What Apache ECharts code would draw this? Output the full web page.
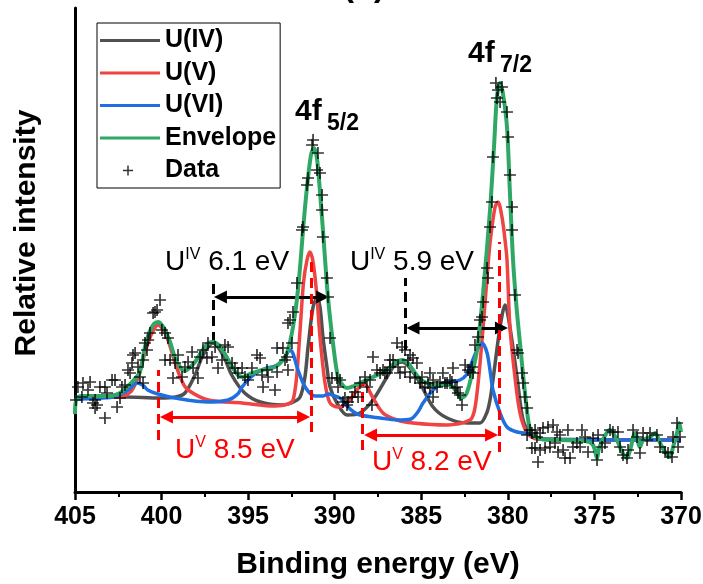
<!DOCTYPE html>
<html>
<head>
<meta charset="utf-8">
<script src="https://cdn.jsdelivr.net/npm/echarts@6/dist/echarts.min.js"></script>
<style>
  html, body { margin: 0; padding: 0; background: #fff; }
  #chart { width: 703px; height: 584px; }
</style>
</head>
<body>
<div id="chart"></div>
<script>
// U 4f XPS spectrum: fitted components, envelope and measured points
const energyTicks = [405, 400, 395, 390, 385, 380, 375, 370];   // binding energy (eV)
const intensityRange = [0, 484];                                  // relative intensity (a.u.)

// U(IV) component [binding energy, intensity]
const uIV = [
  [405.0,95],[402.1,95],[400.1,94],[399.2,95],[398.65,99],[398.07,117],[397.6,137],[397.03,149],
  [396.45,137],[395.95,117],[395.2,99],[394.3,90],[393.05,87],[392.5,89],[392.0,95],[391.72,115],
  [391.54,145],[391.25,185],[391.02,194],[390.85,185],[390.68,155],[390.45,125],[390.27,105],
  [389.87,89],[389.29,77],[388.54,79],[387.79,92],[386.98,115],[386.52,127],[386.11,130],
  [385.65,124],[385.07,109],[384.32,85],[383.51,74],[382.36,69],[381.61,69],[381.2,80],[381.0,95],
  [380.86,112],[380.45,165],[380.16,187],[379.88,165],[379.47,115],[379.12,72],[378.72,59],
  [378.14,53],[377.0,52],[370.0,52]
];

// U(V) component
const uV = [
  [405.0,95],[402.5,95],[401.8,100],[401.42,112],[401.13,129],[400.8,148],[400.55,159],[400.21,167],
  [399.8,159],[399.5,145],[399.22,129],[398.8,110],[398.47,102],[397.3,92],[395.35,89],[393.45,86],
  [392.7,88],[392.41,92],[392.2,115],[392.0,162],[391.8,210],[391.6,232],[391.43,240],[391.25,230],
  [391.05,200],[390.85,155],[390.56,109],[390.27,89],[389.81,85],[389.29,89],[388.83,99],[388.55,106],
  [388.37,109],[388.15,106],[387.85,96],[387.21,79],[386.4,72],[385.48,69],[383.51,67],[382.19,72],
  [381.95,80],[381.78,99],[381.6,130],[381.43,165],[381.2,215],[381.03,249],[380.74,285],[380.57,290],
  [380.34,275],[380.15,250],[380.05,232],[379.88,165],[379.59,115],[379.3,79],[378.89,59],[378.3,53],
  [370.0,52]
];

// U(VI) component
const uVI = [
  [405.0,93],[402.8,95],[402.1,100],[401.8,104],[401.42,109],[401.1,107],[400.8,102],[400.21,98],
  [399.22,94],[397.32,90],[396.16,92],[395.6,98],[395.35,105],[394.9,114],[394.43,120],[393.9,124],
  [393.45,126],[393.1,130],[392.87,135],[392.58,142],[392.4,138],[392.18,125],[391.83,109],[391.5,100],
  [391.14,96],[390.7,96],[390.35,98],[390.0,96],[389.7,94],[389.29,86],[388.9,80],[388.54,77],
  [387.38,74],[386.4,72],[385.6,73],[385.2,80],[384.9,89],[384.32,102],[383.75,109],[383.34,110],
  [382.76,112],[382.4,117],[382.19,125],[381.78,142],[381.49,149],[381.2,139],[381.0,118],[380.86,102],
  [380.45,79],[380.05,65],[379.47,60],[378.72,58],[378.0,53],[370.0,52]
];

// Fitted envelope
const envelope = [
  [405.0,78],[404.9,94],[404.5,96],[403.0,96],[402.4,99],[402.0,105],[401.6,112],[401.25,120],
  [400.96,145],[400.7,160],[400.45,168],[400.2,170],[399.9,165],[399.7,158],[399.51,150],[399.22,134],
  [398.9,124],[398.65,121],[398.4,124],[398.07,130],[397.7,140],[397.35,148],[397.03,150],[396.7,147],
  [396.34,138],[395.95,126],[395.59,117],[395.3,115],[394.89,118],[394.2,122],[393.45,125],[392.99,132],
  [392.7,142],[392.41,165],[392.18,193],[392.0,225],[391.83,262],[391.6,305],[391.37,337],[391.2,344],
  [391.02,333],[390.85,300],[390.68,262],[390.39,195],[390.1,149],[389.81,115],[389.5,106],[389.29,104],
  [388.9,106],[388.54,109],[387.79,115],[386.98,122],[386.52,129],[386.11,132],[385.77,129],[385.48,122],
  [385.07,113],[384.67,109],[383.92,107],[383.34,107],[383.0,101],[382.7,94],[382.4,98],[382.07,118],
  [381.78,142],[381.43,199],[381.03,282],[380.8,345],[380.63,395],[380.45,409],[380.28,398],[380.05,365],
  [379.88,299],[379.7,232],[379.5,185],[379.3,149],[379.01,99],[378.72,62],[378.4,55],[378.14,53],
  [377.0,52],[375.54,51],[375.08,47],[374.85,34],[374.73,44],[374.3,59],[374.1,62],[373.7,52],
  [373.4,40],[373.12,34],[372.94,42],[372.65,59],[372.37,45],[372.19,52],[371.79,55],[371.5,59],
  [371.21,49],[370.92,40],[370.63,35],[370.46,45],[370.23,59],[370.1,69],[370.0,60]
];

// Measured spectrum
const measured = [
  [404.94,92],[404.83,105],[404.60,95],[404.54,109],[404.25,102],[404.13,110],[403.96,89],[403.84,92],
  [403.84,84],[403.73,87],[403.56,105],[403.27,105],[403.27,74],[403.15,99],[402.86,112],[402.69,112],
  [402.57,85],[402.40,94],[402.29,105],[402.11,107],[401.94,122],[401.82,119],[401.71,129],[401.65,137],
  [401.53,139],[401.36,125],[401.25,115],[401.07,132],[401.07,109],[400.96,149],[400.84,142],[400.78,152],
  [400.67,159],[400.49,179],[400.38,180],[400.26,182],[400.09,192],[399.98,162],[399.80,159],[399.63,154],
  [399.80,132],[399.51,132],[399.34,114],[399.22,129],[399.05,137],[398.82,115],[398.65,125],[398.47,130],
  [398.24,140],[398.18,124],[397.90,114],[397.78,135],[397.61,142],[397.38,134],[397.32,149],[397.09,135],
  [396.91,145],[396.74,124],[396.51,132],[396.34,147],[396.16,145],[395.93,129],[395.76,124],[395.59,119],
  [395.35,124],[395.18,115],[395.01,112],[394.78,124],[394.49,137],[394.31,134],[394.20,117],[394.14,105],
  [393.91,122],[393.85,115],[393.45,102],[393.33,120],[393.33,144],[392.99,144],[392.87,132],[392.76,135],
  [392.70,122],[392.70,169],[392.58,172],[392.47,149],[392.41,180],[392.18,209],[391.89,262],[391.83,265],
  [391.60,307],[391.54,314],[391.31,347],[391.25,352],[391.02,322],[390.97,339],[390.85,319],[390.73,297],
  [390.73,282],[390.68,255],[390.45,214],[390.39,195],[390.27,154],[390.16,114],[389.87,114],[389.81,105],
  [389.69,112],[389.52,90],[389.41,94],[389.29,87],[389.23,90],[389.00,95],[388.83,100],[388.65,95],
  [388.54,109],[388.25,115],[388.14,105],[387.96,112],[387.85,87],[387.79,135],[387.56,122],[387.38,119],
  [387.21,122],[387.10,119],[386.98,119],[386.81,125],[386.81,132],[386.63,132],[386.40,149],[386.34,125],
  [386.23,119],[386.11,145],[385.94,142],[385.94,120],[385.77,132],[385.65,137],[385.65,115],[385.48,134],
  [385.36,114],[385.25,129],[385.07,109],[384.96,115],[384.79,105],[384.61,109],[384.50,119],[384.50,104],
  [384.32,112],[384.32,95],[384.09,105],[383.92,110],[383.75,119],[383.63,109],[383.51,109],[383.34,112],
  [383.23,110],[383.17,124],[383.05,104],[382.94,105],[382.88,99],[382.76,97],[382.65,87],[382.47,127],
  [382.30,122],[382.19,120],[382.07,125],[382.01,119],[381.90,147],[381.72,155],[381.61,172],[381.49,175],
  [381.43,190],[381.20,224],[381.15,214],[381.03,265],[380.92,290],[380.86,335],[380.69,409],[380.63,394],
  [380.57,402],[380.45,390],[380.34,405],[380.05,380],[379.99,355],[379.88,317],[379.76,285],[379.76,262],
  [379.59,197],[379.47,142],[379.41,139],[379.18,119],[379.12,109],[379.01,95],[378.89,84],[378.72,62],
  [378.89,57],[378.61,59],[378.61,44],[378.43,62],[378.43,44],[378.32,55],[378.26,30],[378.14,59],
  [378.14,42],[377.97,64],[377.85,44],[377.68,65],[377.57,45],[377.39,67],[377.28,49],[377.16,60],
  [377.10,40],[376.99,57],[376.81,42],[376.70,34],[376.53,62],[376.41,34],[376.24,45],[376.01,49],
  [375.83,45],[375.72,62],[375.54,55],[375.37,40],[375.08,54],[374.85,32],[374.79,57],[374.56,45],
  [374.39,49],[374.10,62],[373.93,60],[373.64,60],[373.52,45],[373.35,37],[373.12,34],[373.06,42],
  [372.77,62],[372.54,55],[372.37,39],[372.19,59],[371.96,52],[371.79,59],[371.39,57],[371.21,45],
  [370.92,40],[370.75,39],[370.52,35],[370.46,55],[370.23,69],[370.17,45],[370.06,55]
];

// Guide lines and separation arrows (energy in eV, intensity range)
const satelliteMarks = [ { e: 397.0, lo: 150, hi: 214 }, { e: 385.94, lo: 142, hi: 214 } ];
const satelliteArrows = [ { from: 396.6, to: 390.7, i: 195 }, { from: 385.48, to: 380.37, i: 164 } ];
const splitMarks = [
  { e: 400.2, lo: 52, hi: 122 }, { e: 391.37, lo: 60, hi: 235 },
  { e: 388.42, lo: 42, hi: 109 }, { e: 380.51, lo: 40, hi: 250 }
];
const splitArrows = [ { from: 399.72, to: 391.8, i: 75 }, { from: 387.93, to: 380.94, i: 57 } ];

// Text notes anchored at [energy, intensity] (left edge, vertical middle)
const separationNotes = [
  { ion: 'IV', value: '6.1 eV', at: [399.8, 230], red: false },
  { ion: 'IV', value: '5.9 eV', at: [389.12, 230], red: false },
  { ion: 'V',  value: '8.5 eV', at: [399.22, 42], red: true },
  { ion: 'V',  value: '8.2 eV', at: [387.85, 30], red: true }
];
const peakNotes = [
  { level: '5/2', at: [392.29, 380] },
  { level: '7/2', at: [382.3, 438] }
];

const FONT = '"Liberation Sans", Arial, Helvetica, sans-serif';
const GREY = '#505050', RED = '#f04343', BLUE = '#1f6fe0', GREEN = '#2fa866', MARK_RED = '#ff0000';
const plusSymbol = 'path://M4.3,0H5.7V4.3H10V5.7H5.7V10H4.3V5.7H0V4.3H4.3Z';
const lineIcon = 'path://M0,0M60,22M0,9.5H60V12.5H0Z';
const plusIcon = 'path://M0,0M60,22M23,10.25H33V11.75H23ZM27.25,6H28.75V16H27.25Z';

function curve(name, pts, color, width, z) {
  return {
    name, type: 'line', data: pts, color, z,
    showSymbol: false, symbol: 'none', smooth: 0.3,
    lineStyle: { color, width }, itemStyle: { color },
    silent: true, emphasis: { disabled: true }, animation: false
  };
}

const guideLines = [];
satelliteMarks.forEach(m => guideLines.push([
  { coord: [m.e, m.lo], lineStyle: { color: '#000', width: 3, type: [10, 6] } }, { coord: [m.e, m.hi] }
]));
satelliteArrows.forEach(a => guideLines.push([
  { coord: [a.from, a.i], symbol: 'triangle', symbolSize: [13, 13], lineStyle: { color: '#000', width: 3, type: 'solid' }, itemStyle: { color: '#000' } },
  { coord: [a.to, a.i], symbol: 'triangle', symbolSize: [13, 13] }
]));
splitMarks.forEach(m => guideLines.push([
  { coord: [m.e, m.lo], lineStyle: { color: MARK_RED, width: 3, type: [10, 6] } }, { coord: [m.e, m.hi] }
]));
splitArrows.forEach(a => guideLines.push([
  { coord: [a.from, a.i], symbol: 'triangle', symbolSize: [13, 13], lineStyle: { color: MARK_RED, width: 3, type: 'solid' }, itemStyle: { color: MARK_RED } },
  { coord: [a.to, a.i], symbol: 'triangle', symbolSize: [13, 13] }
]));

const chart = echarts.init(document.getElementById('chart'), null, { renderer: 'canvas' });

chart.setOption({
  animation: false,
  backgroundColor: '#fff',
  textStyle: { fontFamily: FONT },
  grid: { left: 75, right: 22, top: 8, bottom: 92, containLabel: false, outerBoundsMode: 'none' },
  legend: {
    orient: 'vertical', left: 97, top: 23,
    padding: [5, 4, 5, 3], itemGap: 7.5, itemWidth: 60, itemHeight: 22,
    borderColor: '#000', borderWidth: 1, borderRadius: 0, backgroundColor: '#fff',
    selectedMode: false,
    itemStyle: { borderWidth: 0 },
    textStyle: { fontFamily: FONT, fontSize: 25, fontWeight: 'bold', color: '#000', lineHeight: 22 },
    data: [
      { name: 'U(IV)', icon: lineIcon },
      { name: 'U(V)', icon: lineIcon },
      { name: 'U(VI)', icon: lineIcon },
      { name: 'Envelope', icon: lineIcon },
      { name: 'Data', icon: plusIcon, itemStyle: { color: '#000', borderWidth: 0 } }
    ]
  },
  xAxis: {
    type: 'value', inverse: true,
    min: Math.min(...energyTicks), max: Math.max(...energyTicks), interval: 5,
    name: 'Binding energy (eV)', nameLocation: 'middle', nameGap: 58,
    nameTextStyle: { fontFamily: FONT, fontSize: 30, fontWeight: 'bold', color: '#000' },
    axisLine: { show: true, onZero: false, lineStyle: { color: '#000', width: 3 } },
    axisTick: { show: true, inside: false, length: 8, lineStyle: { color: '#000', width: 2.5 } },
    minorTick: { show: true, splitNumber: 2, length: 5, lineStyle: { color: '#000', width: 2 } },
    axisLabel: { fontFamily: FONT, fontSize: 25, fontWeight: 'bold', color: '#000', margin: 13 },
    splitLine: { show: false }, minorSplitLine: { show: false }
  },
  yAxis: {
    type: 'value', min: intensityRange[0], max: intensityRange[1],
    name: 'Relative intensity', nameLocation: 'middle', nameRotate: 90, nameGap: 33,
    nameTextStyle: { fontFamily: FONT, fontSize: 30, fontWeight: 'bold', color: '#000', padding: [0, 0, 0, 34] },
    axisLine: { show: true, onZero: false, lineStyle: { color: '#000', width: 3 } },
    axisTick: { show: false }, axisLabel: { show: false }, splitLine: { show: false }
  },
  series: [
    curve('U(IV)', uIV, GREY, 3.5, 2),
    curve('U(V)', uV, RED, 3.5, 3),
    curve('U(VI)', uVI, BLUE, 3.5, 4),
    curve('Envelope', envelope, GREEN, 4, 5),
    {
      name: 'Data', type: 'scatter', data: measured, z: 6,
      symbol: plusSymbol, symbolSize: 12,
      itemStyle: { color: '#000', borderWidth: 0 },
      silent: true, emphasis: { disabled: true }, animation: false,
      markLine: {
        silent: true, animation: false, symbol: ['none', 'none'],
        label: { show: false }, emphasis: { disabled: true },
        data: guideLines
      }
    }
  ]
});

// Text annotations placed through the axis scales
const toPx = p => chart.convertToPixel({ xAxisIndex: 0, yAxisIndex: 0 }, p);
const graphics = [];
separationNotes.forEach(n => {
  const [x, y] = toPx(n.at);
  graphics.push({
    type: 'text', x, y, silent: true, z: 20,
    style: {
      text: '{m|U}{s|' + n.ion + '}{m| ' + n.value + '}',
      align: 'left', verticalAlign: 'middle',
      fill: n.red ? MARK_RED : '#000',
      rich: {
        m: { fontFamily: FONT, fontSize: 28, lineHeight: 30 },
        s: { fontFamily: FONT, fontSize: 16, lineHeight: 22, verticalAlign: 'top' }
      }
    }
  });
});
peakNotes.forEach(n => {
  const [x, y] = toPx(n.at);
  graphics.push({
    type: 'text', x, y, silent: true, z: 20,
    style: { text: '4f', align: 'left', verticalAlign: 'middle', fill: '#000',
             fontFamily: FONT, fontSize: 30, fontWeight: 'bold' }
  });
  graphics.push({
    type: 'text', x: x + 32, y: y + 12, silent: true, z: 20,
    style: { text: n.level, align: 'left', verticalAlign: 'middle', fill: '#000',
             fontFamily: FONT, fontSize: 23, fontWeight: 'bold' }
  });
});
// Panel letter at the top edge
graphics.push({
  type: 'text', x: 364, y: 3, silent: true,
  style: { text: '(b)', align: 'center', verticalAlign: 'bottom', fill: '#000',
           fontFamily: FONT, fontSize: 33, fontWeight: 'bold' }
});
chart.setOption({ graphic: graphics });
</script>
</body>
</html>
